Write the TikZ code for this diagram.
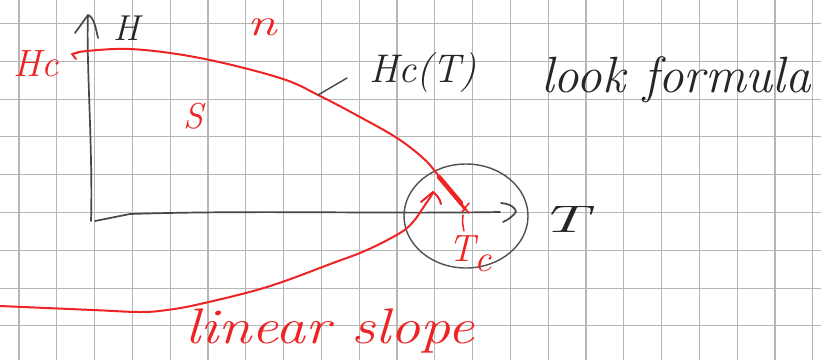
\documentclass[tikz,border=0pt]{standalone}
\usepackage{fontspec}
\usepackage{graphicx}
\usetikzlibrary{shapes.geometric}
\definecolor{pen}{HTML}{EE2424}
\definecolor{ink}{HTML}{262626}
\definecolor{gridc}{HTML}{B6B6B6}
\tikzset{
  gridline/.style={draw=gridc, line width=1.1pt},
  axisline/.style={draw=ink!85, line width=1.7pt, line cap=round, line join=round},
  redline/.style={draw=pen, line width=2pt, line cap=round, line join=round},
  blab/.style={text=ink, inner sep=0pt, font=\itshape},
  rlab/.style={text=pen, inner sep=0pt, font=\itshape},
}
\newcommand{\fsz}[1]{\fontsize{#1}{#1}\selectfont}
\begin{document}
\begin{tikzpicture}[x=1pt,y=-1pt]
\useasboundingbox (0,0) rectangle (821,360);
\fill[white] (0,0) rectangle (821,360);
% grid
\foreach \i in {0,...,21} \draw[gridline] ({19+37.8*\i},0) -- ({19+37.8*\i},360);
\foreach \j in {0,...,8} \draw[gridline] (0,{23.5+37.8*\j}) -- (821,{23.5+37.8*\j});

% axes
\coordinate (o) at (91,221);
\coordinate (ytop) at (88,15);
\coordinate (xend) at (516,212);
\draw[axisline] (o) .. controls (93,150) and (86,60) .. (ytop);
\draw[axisline] ([shift={(-13,18)}]ytop) -- (ytop) .. controls ([shift={(6,2)}]ytop) and ([shift={(8,14)}]ytop) .. ([shift={(10,23)}]ytop);
\draw[axisline] ([shift={(4,0)}]o) -- (130,214) .. controls (250,210) and (380,214) .. ([shift={(-16,0)}]xend);
\draw[axisline] ([shift={(-15,-9)}]xend) .. controls ([shift={(-4,-8)}]xend) and ([shift={(0,-3)}]xend) .. (xend) .. controls ([shift={(-3,4)}]xend) and ([shift={(-8,8)}]xend) .. ([shift={(-13,10)}]xend);

% circle
\node[draw=ink!80, line width=1.4pt, ellipse, minimum width=124pt, minimum height=104pt, inner sep=0pt] (circ) at (466,216) {};

% critical field curve
\draw[redline] (76,59) -- (72,54) -- (80,52);
\draw[redline] plot[smooth, tension=0.6] coordinates {(78,52) (130,49) (200,58) (280,78) (320,96) (360,117) (397,138) (423,158) (438,175) (465,210)};
\draw[draw=pen, line width=4.5pt, line cap=round] (439,177) -- (461,203);
\draw[redline, line width=1.5pt] (461,203) -- (469,213) (469,203) -- (462,212);
\draw[redline, line width=1.5pt] (463,215) .. controls (462,222) and (463,226) .. (464,231);

% lower curve
\draw[redline] plot[smooth, tension=0.6] coordinates {(0,306) (93,310) (140,312) (167,310) (200,304) (267,287) (333,263) (367,250) (400,233) (413,222) (425,205) (433,193)};
\draw[redline] (421,202) -- (433,192) .. controls (437,195) and (440,199) .. (441,204);

% leader
\coordinate (lead1) at (318,95);
\coordinate (lead2) at (347,78);
\draw[axisline, line width=1.4pt] (lead1) -- (lead2);

% labels
\node[blab] (lH) at (127,28) {\fsz{36}H};
\node[rlab] (lHc) at (36,64) {\fsz{38}Hc};
\node[rlab] (ln) at (262,27) {\fsz{38}\scalebox{1.4}[1]{n}};
\node[rlab] (lS) at (193,116) {\fsz{36}S};
\node[blab] (lHcT) at (423,73) {\fsz{40}Hc(T)};
\node[blab] (llook) at (676,80) {\fsz{51}look formula};
\node[blab] (lT) at (564,219) {\fsz{48}\scalebox{1.45}[0.8]{T}};
\node[rlab] (lTc) at (470,254) {\fsz{38}T\raisebox{-0.25em}{c}};
\node[rlab] (lslope) at (330,331) {\fsz{50}\scalebox{1.2}[1]{linear slope}};
\end{tikzpicture}
\end{document}
